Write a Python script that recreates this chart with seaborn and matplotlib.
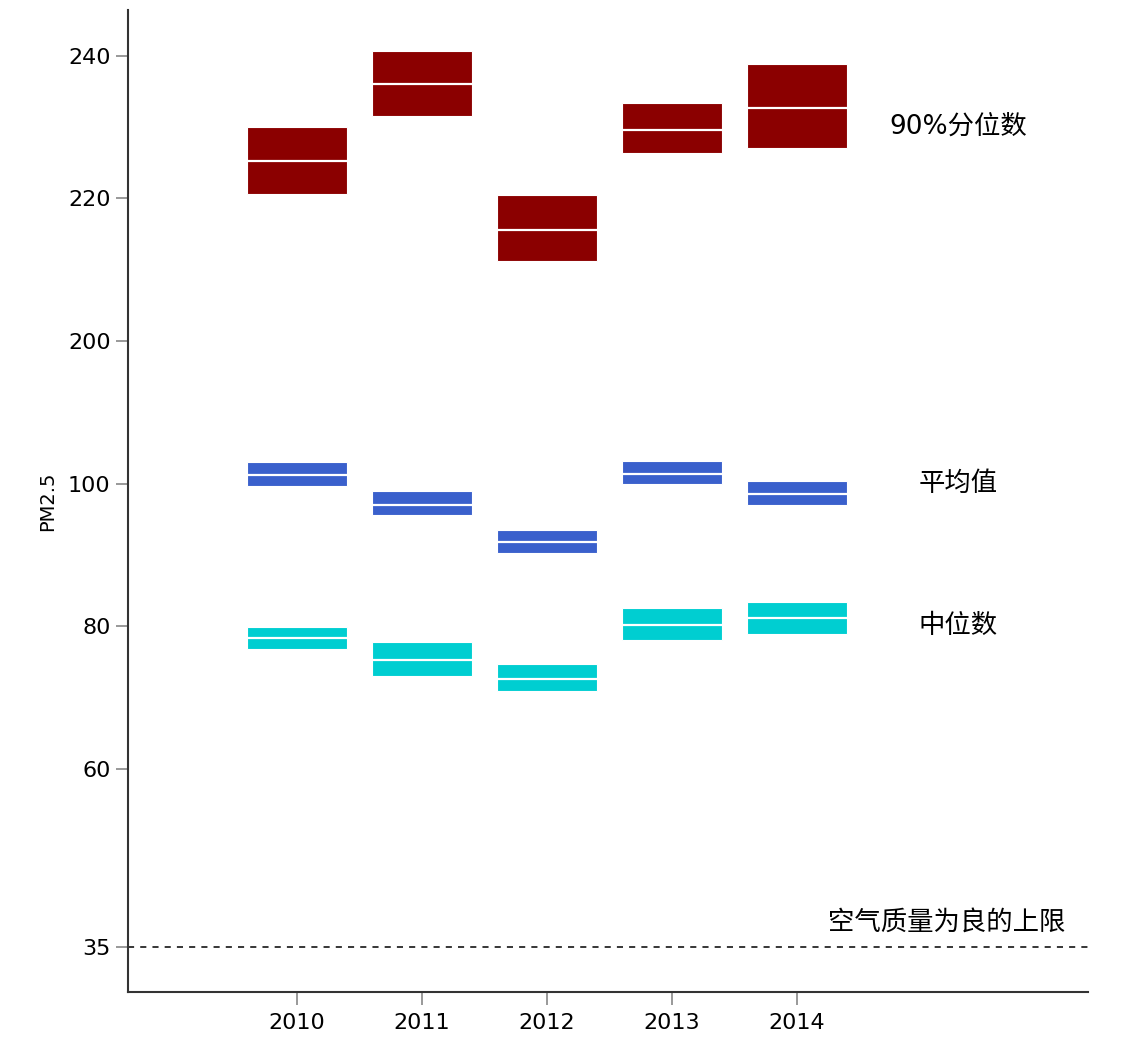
import numpy as np
import pandas as pd
import seaborn as sns
import matplotlib
matplotlib.use('Agg')
import matplotlib.pyplot as plt

# PM2.5 by year: 90% quantile, mean and median, each with its interval
years = [2010, 2011, 2012, 2013, 2014]

q90_mid = [225.3, 236.0, 215.6, 229.6, 232.7]
q90_low = [220.6, 231.6, 211.2, 226.3, 227.1]
q90_high = [230.0, 240.6, 220.5, 233.3, 238.8]

mean_mid = [101.2, 97.0, 91.8, 101.4, 98.5]
mean_low = [99.7, 95.6, 90.3, 99.9, 97.0]
mean_high = [103.0, 98.9, 93.5, 103.2, 100.3]

med_mid = [78.3, 75.2, 72.6, 80.2, 81.2]
med_low = [76.8, 73.0, 70.9, 78.0, 78.9]
med_high = [79.9, 77.8, 74.7, 82.5, 83.4]

y_ticks = [35, 60, 80, 100, 200, 220, 240]
good_limit = 35

sns.set_style('ticks')
plt.rcParams['font.family'] = ['DejaVu Sans', 'Noto Sans CJK SC']
plt.rcParams['text.color'] = 'black'


# broken y axis: linear up to 110, 110-200 squeezed into 10 units, then shifted
def forward(v):
    v = np.asarray(v, dtype=float)
    return np.where(v <= 110, v,
                    np.where(v >= 200, v - 80, 110 + (v - 110) / 9.0))


def inverse(d):
    d = np.asarray(d, dtype=float)
    return np.where(d <= 110, d,
                    np.where(d >= 120, d + 80, 110 + (d - 110) * 9.0))


fig = plt.figure(figsize=(11.21, 10.45), dpi=100)
ax = fig.add_axes([0.1142, 0.0507, 0.8564, 0.9397])

series = [
    (q90_low, q90_mid, q90_high, '#8b0000'),
    (mean_low, mean_mid, mean_high, '#3a60cc'),
    (med_low, med_mid, med_high, '#00ced1'),
]

for low, mid, high, col in series:
    df = pd.DataFrame({'year': years,
                       'span': np.array(high) - np.array(low)})
    sns.barplot(data=df, x='year', y='span', bottom=low, native_scale=True,
                color=col, saturation=1, width=0.8, errorbar=None,
                edgecolor='white', linewidth=0.8, ax=ax)
    yr = np.array(years)
    ax.hlines(mid, yr - 0.4, yr + 0.4, color='white', linewidth=1.6)

ax.axhline(good_limit, color='black', linestyle='--', linewidth=1.1,
           dashes=(4, 4))

ax.set_yscale('function', functions=(forward, inverse))
ax.set_ylim(28.7, 246.4)
ax.set_xlim(2008.65, 2016.33)
ax.set_yticks(y_ticks)
ax.set_yticklabels([str(t) for t in y_ticks])
ax.set_xticks(years)
ax.set_xticklabels([str(y) for y in years])
ax.minorticks_off()

ax.set_xlabel('')
ax.set_ylabel('PM2.5', fontsize=14, labelpad=8, color='black')
ax.tick_params(axis='both', labelsize=16, color='#888888', length=9,
               width=1.2, labelcolor='black')
ax.tick_params(axis='x', pad=6)

sns.despine(ax=ax)
for s in ['left', 'bottom']:
    ax.spines[s].set_color('#333333')
    ax.spines[s].set_linewidth(1.5)

ax.text(2015.29, 230, '90%分位数', fontsize=19, ha='center', va='center')
ax.text(2015.29, 100, '平均值', fontsize=19, ha='center', va='center')
ax.text(2015.29, 80, '中位数', fontsize=19, ha='center', va='center')
ax.text(2015.2, 36.6, '空气质量为良的上限', fontsize=19, ha='center',
        va='bottom')

fig.savefig('out.png', dpi=100)
